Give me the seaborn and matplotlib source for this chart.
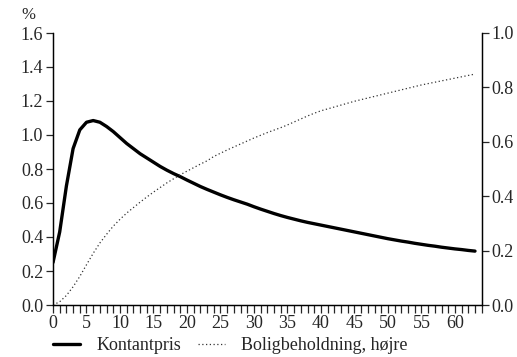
import numpy as np
import pandas as pd
import matplotlib
matplotlib.use("Agg")
import matplotlib.pyplot as plt
import seaborn as sns
from matplotlib.ticker import MultipleLocator

quarters = list(range(0, 64))
kontantpris = [0.25, 0.43, 0.70, 0.92, 1.03, 1.075, 1.085, 1.075, 1.05, 1.02,
               0.985, 0.95, 0.92, 0.89, 0.865, 0.84, 0.815, 0.793, 0.773, 0.755,
               0.735, 0.716, 0.697, 0.68, 0.664, 0.648, 0.633, 0.619, 0.606, 0.593,
               0.578, 0.564, 0.551, 0.538, 0.526, 0.515, 0.505, 0.495, 0.486, 0.478,
               0.470, 0.462, 0.454, 0.446, 0.438, 0.430, 0.422, 0.414, 0.406, 0.398,
               0.390, 0.383, 0.376, 0.370, 0.363, 0.357, 0.351, 0.346, 0.340, 0.335,
               0.330, 0.326, 0.321, 0.317]
boligbeholdning = [0.0, 0.012, 0.035, 0.067, 0.105, 0.148, 0.19, 0.228, 0.26, 0.29,
                   0.315, 0.338, 0.358, 0.378, 0.397, 0.415, 0.432, 0.449, 0.464, 0.479,
                   0.492, 0.505, 0.518, 0.53, 0.546, 0.558, 0.57, 0.581, 0.592, 0.603,
                   0.614, 0.624, 0.634, 0.643, 0.652, 0.662, 0.673, 0.684, 0.695, 0.705,
                   0.714, 0.721, 0.728, 0.735, 0.742, 0.749, 0.755, 0.761, 0.767, 0.773,
                   0.779, 0.785, 0.791, 0.797, 0.803, 0.809, 0.814, 0.819, 0.824, 0.829,
                   0.834, 0.839, 0.844, 0.849]
left_label = "Kontantpris"
right_label = "Boligbeholdning, højre"

df = pd.DataFrame({"q": quarters, "k": kontantpris, "b": boligbeholdning})

sns.set_style("ticks")
plt.rcParams["font.family"] = ["Liberation Serif", "DejaVu Serif"]
plt.rcParams["font.size"] = 13

fig = plt.figure(figsize=(5.17, 3.57), dpi=100)
ax = fig.add_axes([53 / 517, 1 - 305 / 357, (481.7 - 53) / 517, (305 - 33) / 357])
ax2 = ax.twinx()

sns.lineplot(data=df, x="q", y="k", ax=ax, color="black", linewidth=2.4, label=left_label, legend=False)
sns.lineplot(data=df, x="q", y="b", ax=ax2, color="#333333", linewidth=0.9, linestyle=(0, (1, 2)),
             label=right_label, legend=False)

ax.set_xlim(0, 64)
ax.set_ylim(0, 1.6)
ax2.set_ylim(0, 1.0)
ax.set_xlabel("")
ax.set_ylabel("")
ax2.set_ylabel("")
ax.xaxis.set_major_locator(MultipleLocator(5))
ax.xaxis.set_minor_locator(MultipleLocator(1))
ax.yaxis.set_major_locator(MultipleLocator(0.2))
ax2.yaxis.set_major_locator(MultipleLocator(0.2))
ax.yaxis.set_major_formatter(plt.FuncFormatter(lambda v, p: f"{v:.1f}"))
ax2.yaxis.set_major_formatter(plt.FuncFormatter(lambda v, p: f"{v:.1f}"))

for a in (ax, ax2):
    a.spines["top"].set_visible(False)
    for s in ("left", "right", "bottom"):
        a.spines[s].set_linewidth(0.9)
        a.spines[s].set_color("black")
ax.spines["right"].set_visible(True)
ax2.spines["left"].set_visible(True)

ax.tick_params(axis="x", which="major", direction="out", length=6, width=0.9, pad=1, labelsize=13)
ax.tick_params(axis="x", which="minor", direction="out", length=6, width=0.9)
ax.tick_params(axis="y", direction="out", length=5, width=0.9, pad=2, labelsize=13)
ax2.tick_params(axis="y", direction="out", length=5, width=0.9, pad=2, labelsize=13)

fig.text(28 / 517, 1 - 15 / 357, "%", ha="center", va="center", fontsize=12)

h1, l1 = ax.get_legend_handles_labels()
h2, l2 = ax2.get_legend_handles_labels()
fig.legend(h1 + h2, l1 + l2, loc="center left", bbox_to_anchor=(37 / 517, 1 - 346 / 357),
           ncol=2, frameon=False, fontsize=13, handlelength=1.5, columnspacing=0.9, handletextpad=0.9)

fig.savefig("out.png", dpi=100)
